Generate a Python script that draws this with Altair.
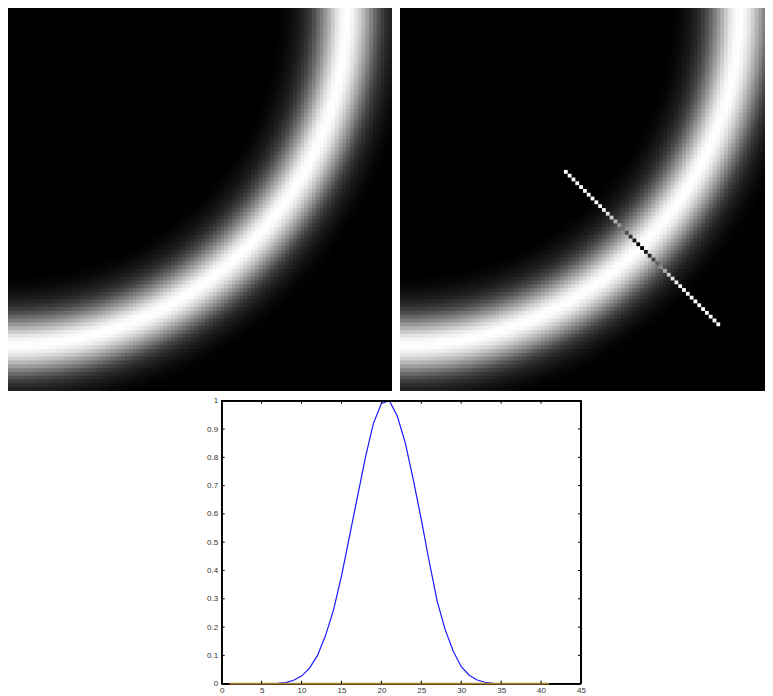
import altair as alt
import numpy as np
import pandas as pd

# Values, one per integer position along the white segment
positions = list(range(1, 42))
profile = [0, 0, 0, 0, 0, 0, 0.001, 0.004, 0.012, 0.027, 0.055, 0.10, 0.17, 0.26, 0.38, 0.52,
           0.66, 0.80, 0.92, 0.99, 1.0, 0.945, 0.85, 0.72, 0.58, 0.43, 0.29, 0.19, 0.115, 0.06,
           0.03, 0.013, 0.005, 0.001, 0, 0, 0, 0, 0, 0, 0]
x_ticks = [0, 5, 10, 15, 20, 25, 30, 35, 40, 45]
y_ticks = [0, 0.1, 0.2, 0.3, 0.4, 0.5, 0.6, 0.7, 0.8, 0.9, 1]
grid_size = 101
segment_first_cell = 42

# The raster is the read profile looked up by radial distance from the top-left corner
cols, rows = np.meshgrid(np.arange(grid_size), np.arange(grid_size))
along = np.hypot(cols, rows) / np.sqrt(2) - segment_first_cell
shade = np.interp(along, positions, profile, left=0, right=0)
cells = pd.DataFrame({"c": cols.ravel(), "r": rows.ravel(), "v": np.round(shade.ravel(), 3)})
cells["c2"] = np.minimum(cells.c + 1.3, grid_size)
cells["r2"] = np.minimum(cells.r + 1.3, grid_size)

seg = pd.DataFrame({
    "c": [segment_first_cell + p for p in positions],
    "r": [segment_first_cell + p for p in positions],
    "v": [1 - v for v in profile],
})
seg["c2"] = seg.c + 1
seg["r2"] = seg.r + 1

gray = alt.Scale(domain=[0, 1], range=["#000000", "#ffffff"])


def raster(df, left_px):
    return alt.Chart(df).mark_rect(strokeWidth=0).encode(
        x=alt.X("c:Q", axis=None,
                scale=alt.Scale(domain=[0, grid_size], range=[left_px, left_px + 385], nice=False, zero=False)),
        x2="c2:Q",
        y=alt.Y("r:Q", axis=None,
                scale=alt.Scale(domain=[0, grid_size], range=[-2, 383], nice=False, zero=False)),
        y2="r2:Q",
        color=alt.Color("v:Q", scale=gray, legend=None),
    )


L, R, T, B = 213.7, 573.0, 392.7, 675.7
CHART_W, CHART_H = 757, 688
xs = alt.Scale(domain=[0, 45], range=[L, R], nice=False)
ys = alt.Scale(domain=[0, 1], range=[B, T], nice=False)
label_style = dict(labelFont="Liberation Sans", labelFontSize=8, labelColor="#333333",
                   format="~g", labelFlush=False, tickSize=0, grid=False, domain=False, title=None)

curve = pd.DataFrame({"x": positions, "y": profile})
curve["z"] = 0
blue = alt.Chart(curve).mark_line(color="#1a1aff", strokeWidth=1.2).encode(
    x=alt.X("x:Q", scale=xs, axis=alt.Axis(values=x_ticks, offset=B - CHART_H, labelPadding=3, **label_style)),
    y=alt.Y("y:Q", scale=ys, axis=alt.Axis(values=y_ticks, offset=-L, labelPadding=4, **label_style)),
)
brown = alt.Chart(curve).mark_line(color="#a8842c", strokeWidth=1.8).encode(
    x=alt.X("x:Q", scale=xs, axis=None), y=alt.Y("z:Q", scale=ys, axis=None)
)

xdf = pd.DataFrame({"x": x_ticks})
ydf = pd.DataFrame({"y": y_ticks})
black = dict(color="#000000", strokeWidth=1)


def xtick(y0, y1):
    return alt.Chart(xdf).mark_rule(**black).encode(
        x=alt.X("x:Q", scale=xs, axis=None), y=alt.value(y0), y2=alt.value(y1))


def ytick(x0, x1):
    return alt.Chart(ydf).mark_rule(**black).encode(
        y=alt.Y("y:Q", scale=ys, axis=None), x=alt.value(x0), x2=alt.value(x1))


def frame_h(y):
    return alt.Chart(xdf).mark_rule(color="#000000", strokeWidth=1.1).encode(
        x=alt.value(L), x2=alt.value(R), y=alt.value(y))


def frame_v(x):
    return alt.Chart(xdf).mark_rule(color="#000000", strokeWidth=1.1).encode(
        y=alt.value(T), y2=alt.value(B), x=alt.value(x))


chart = alt.layer(
    raster(cells, -1),
    raster(cells, 392),
    raster(seg, 392),
    blue,
    frame_h(T), frame_h(B), frame_v(L), frame_v(R),
    brown,
    xtick(B, B - 3), xtick(T, T + 3), ytick(L, L + 3), ytick(R, R - 3),
).resolve_scale(x="independent", y="independent").resolve_axis(x="independent", y="independent").properties(
    width=CHART_W, height=CHART_H,
    autosize=alt.AutoSizeParams(type="none"),
    padding=0,
    view=alt.ViewBackground(stroke=None),
)
chart.save("out.html", embed_options={"renderer": "svg", "actions": False})
